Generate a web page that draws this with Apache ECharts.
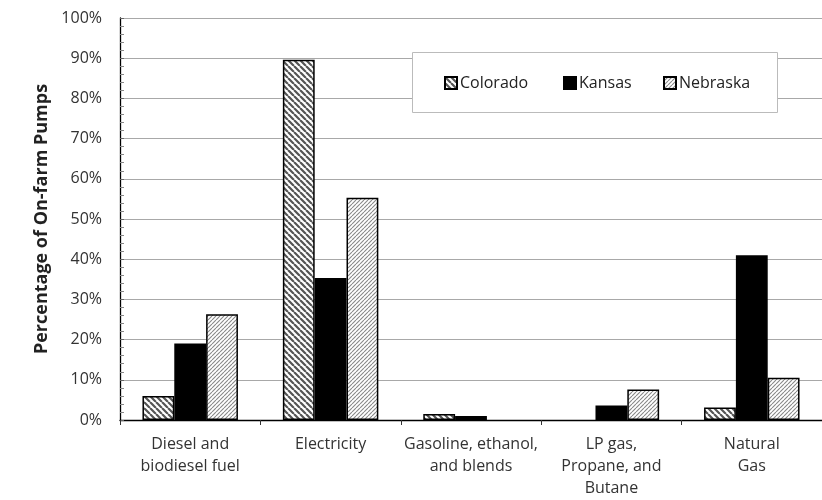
<!DOCTYPE html>
<html>
<head>
<meta charset="utf-8">
<script src="https://cdn.jsdelivr.net/npm/echarts@6/dist/echarts.min.js"></script>
<style>html,body{margin:0;padding:0;background:#fff}#c{width:822px;height:500px}</style>
</head>
<body>
<div id="c"></div>
<script>
const categories = ['Diesel and\nbiodiesel fuel', 'Electricity', 'Gasoline, ethanol,\nand blends', 'LP gas,\nPropane, and\nButane', 'Natural\nGas'];
const colorado = [6.0, 89.6, 1.5, 0, 3.1];
const kansas = [19.0, 35.3, 1.0, 3.6, 41.0];
const nebraska = [26.3, 55.3, 0, 7.6, 10.5];
const seriesNames = ['Colorado', 'Kansas', 'Nebraska'];
const yTicks = [0, 10, 20, 30, 40, 50, 60, 70, 80, 90, 100];

function hatch(dir, s, lw, color) {
  const c = document.createElement('canvas');
  c.width = s; c.height = s;
  const ctx = c.getContext('2d');
  ctx.fillStyle = '#fff';
  ctx.fillRect(0, 0, s, s);
  ctx.strokeStyle = color;
  ctx.lineWidth = lw;
  ctx.beginPath();
  for (const k of [-s, 0, s]) {
    if (dir === '\\') { ctx.moveTo(k, 0); ctx.lineTo(k + s, s); }
    else { ctx.moveTo(k, s); ctx.lineTo(k + s, 0); }
  }
  ctx.stroke();
  return { image: c, repeat: 'repeat' };
}

const font = '"Open Sans", sans-serif';
const patColorado = hatch('\\', 6, 2.2, '#555');
const patNebraska = hatch('/', 4, 1.1, '#888');

function toData(arr) {
  return arr.map(v => v === 0 ? { value: v, itemStyle: { borderWidth: 0, opacity: 0 } } : v);
}

const chart = echarts.init(document.getElementById('c'), null, { renderer: 'canvas' });
const legendBase = {
  orient: 'horizontal', icon: 'rect', itemWidth: 12, itemHeight: 12, itemGap: 0, z: 10, padding: 0,
  textStyle: { fontFamily: font, fontSize: 16, color: '#222', padding: [0, 0, 0, -2] },
  top: 75, selectedMode: false
};
chart.setOption({
  animation: false,
  backgroundColor: '#fff',
  graphic: [{
    type: 'rect', left: 412, top: 52, z: 1, zlevel: 0,
    shape: { width: 365, height: 60 },
    style: { fill: '#fff', stroke: '#bbb', lineWidth: 1 }
  }],
  legend: [
    Object.assign({}, legendBase, { data: [seriesNames[0]], left: 444 }),
    Object.assign({}, legendBase, { data: [seriesNames[1]], left: 563 }),
    Object.assign({}, legendBase, { data: [seriesNames[2]], left: 663 })
  ],
  grid: { left: 120, top: 18, width: 712, height: 402, containLabel: false },
  xAxis: {
    type: 'category', data: categories, boundaryGap: true,
    axisLine: { lineStyle: { color: '#000', width: 1.3 } },
    axisTick: { show: true, length: 5, lineStyle: { color: '#333' } },
    axisLabel: { fontFamily: font, fontSize: 16, color: '#333', lineHeight: 22, margin: 13, interval: 0 }
  },
  yAxis: {
    type: 'value', min: 0, max: 100, interval: 10,
    name: 'Percentage of On-farm Pumps', nameLocation: 'middle', nameGap: 64,
    nameTextStyle: { fontFamily: font, fontSize: 18, fontWeight: 'bold', color: '#222' },
    axisLine: { show: true, lineStyle: { color: '#000', width: 1.3 } },
    axisTick: { show: true, inside: true, length: 4, lineStyle: { color: '#666' } },
    minorTick: { show: true, splitNumber: 5, length: 4, lineStyle: { color: '#888' } },
    axisLabel: { fontFamily: font, fontSize: 16, color: '#333', margin: 18, formatter: v => yTicks.includes(v) ? v + '%' : '' },
    splitLine: { show: true, lineStyle: { color: '#a8a8a8', width: 1 } }
  },
  series: [
    { name: seriesNames[0], type: 'bar', data: toData(colorado), barGap: '0%', barCategoryGap: '32%',
      itemStyle: { color: patColorado, borderColor: '#000', borderWidth: 1.5 } },
    { name: seriesNames[1], type: 'bar', data: toData(kansas), barGap: '0%', barCategoryGap: '32%',
      itemStyle: { color: '#000', borderColor: '#000', borderWidth: 1.5 } },
    { name: seriesNames[2], type: 'bar', data: toData(nebraska), barGap: '0%', barCategoryGap: '32%',
      itemStyle: { color: patNebraska, borderColor: '#000', borderWidth: 1.5 } }
  ]
});
</script>
</body>
</html>
